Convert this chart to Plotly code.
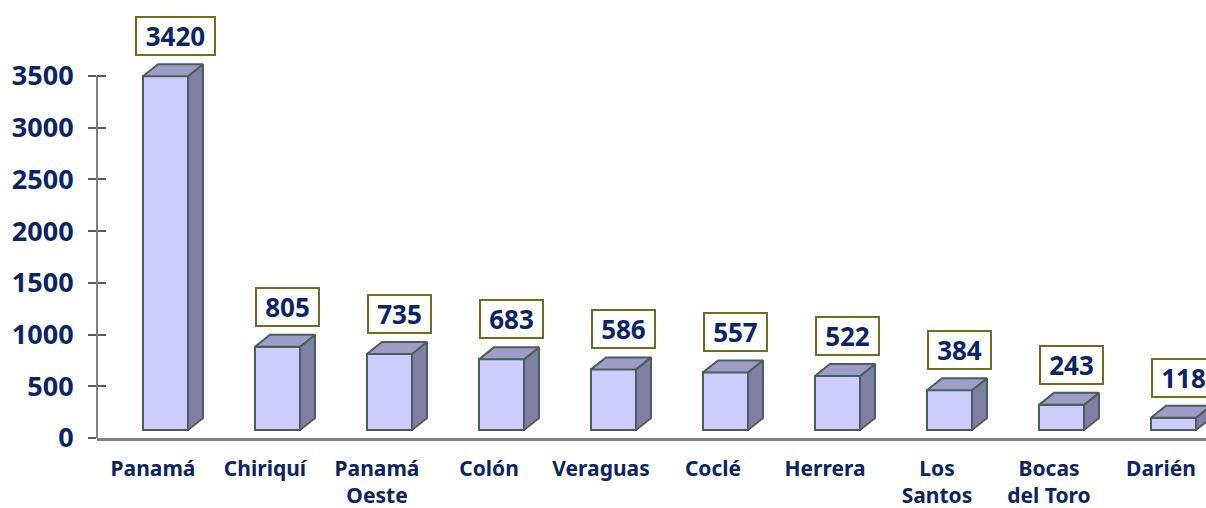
import plotly.graph_objects as go

categories = ["Panamá", "Chiriquí", "Panamá<br>Oeste", "Colón", "Veraguas",
              "Coclé", "Herrera", "Los<br>Santos", "Bocas<br>del Toro", "Darién"]
values = [3420, 805, 735, 683, 586, 557, 522, 384, 243, 118]
y_tickvals = [0, 500, 1000, 1500, 2000, 2500, 3000, 3500]

NAVY = "#0c2461"
FONT = "Noto Sans"
W, H = 1206, 508
ML, MB = 97, 70
plot_w = W - ML
plot_h = H - MB
px_per_cat = 112.0
xr = [-0.5, -0.5 + plot_w / px_per_cat]
units_per_px = 3500 / 362.0
yr = [0, plot_h * units_per_px]

base = 8 * units_per_px          # floor lift of the 3D bars
dx = 15 / px_per_cat             # depth offset (x)
dy = 12 * units_per_px           # depth offset (y)
off = -10 / px_per_cat
bw = 45 / px_per_cat

xs = list(range(len(categories)))

fig = go.Figure()

# front faces
fig.add_trace(go.Bar(
    x=xs, y=values, base=base, offset=off, width=bw,
    marker=dict(color="#ccccff", line=dict(color="#4d5e5a", width=2)),
    hoverinfo="skip", showlegend=False, xaxis="x", yaxis="y"))

# side and top faces
sx, sy, tx, ty = [], [], [], []
for i, v in zip(xs, values):
    x0 = i + off
    x1 = x0 + bw
    top = base + v
    sx += [x1, x1 + dx, x1 + dx, x1, x1, None]
    sy += [base, base + dy, top + dy, top, base, None]
    tx += [x0, x0 + dx, x1 + dx, x1, x0, None]
    ty += [top, top + dy, top + dy, top, top, None]
fig.add_trace(go.Scatter(x=sx, y=sy, mode="lines", fill="toself",
                         fillcolor="#8080a6", line=dict(color="#4d5e5a", width=2),
                         hoverinfo="skip", showlegend=False))
fig.add_trace(go.Scatter(x=tx, y=ty, mode="lines", fill="toself",
                         fillcolor="#9d9dc8", line=dict(color="#4d5e5a", width=2),
                         hoverinfo="skip", showlegend=False))

# value labels
for i, v in zip(xs, values):
    txt = str(v)
    fig.add_annotation(
        x=i + 22 / px_per_cat, y=base + v, xref="x", yref="y",
        text=f"<b>{txt}</b>", showarrow=False, yanchor="bottom", yshift=20,
        font=dict(family=FONT, size=26, color=NAVY),
        bgcolor="white", bordercolor="#6b6f1f", borderwidth=2, borderpad=3,
        width=16 * len(txt) + 7, height=30)

# y axis line only spanning the tick range
fig.add_shape(type="line", xref="paper", yref="y", x0=0, x1=0,
              y0=y_tickvals[0], y1=y_tickvals[-1],
              line=dict(color="#808080", width=2), layer="above")

fig.update_layout(
    width=W, height=H,
    margin=dict(l=ML, r=0, t=0, b=MB, autoexpand=False),
    plot_bgcolor="white", paper_bgcolor="white",
    bargap=0,
    xaxis=dict(range=xr, tickmode="array", tickvals=xs, ticktext=categories,
               showline=True, linecolor="#808080", linewidth=2.5,
               showgrid=False, zeroline=False, ticks="", automargin=False,
               ticklabelstandoff=10,
               tickfont=dict(family=FONT, size=21, color=NAVY, weight="bold")),
    yaxis=dict(range=yr, tickmode="array", tickvals=y_tickvals,
               showline=False, automargin=False,
               showgrid=False, zeroline=False,
               ticks="outside", ticklen=8, tickwidth=2, tickcolor="#5a5a5a",
               ticklabelstandoff=9,
               tickfont=dict(family=FONT, size=27, color=NAVY, weight="bold")),
    yaxis2=dict(range=yr, overlaying="y", side="left", tickmode="array",
                tickvals=y_tickvals, showticklabels=False, showline=False,
                showgrid=False, zeroline=False, automargin=False,
                ticks="inside", ticklen=9, tickwidth=2, tickcolor="#5a5a5a"),
)
# dummy trace so yaxis2 is drawn
fig.add_trace(go.Scatter(x=[None], y=[None], yaxis="y2", showlegend=False,
                         hoverinfo="skip"))

fig.write_html("out.html",
               config={"displayModeBar": False},
               post_script="document.body.style.margin='0';"
                           "document.body.style.overflow='hidden';")
